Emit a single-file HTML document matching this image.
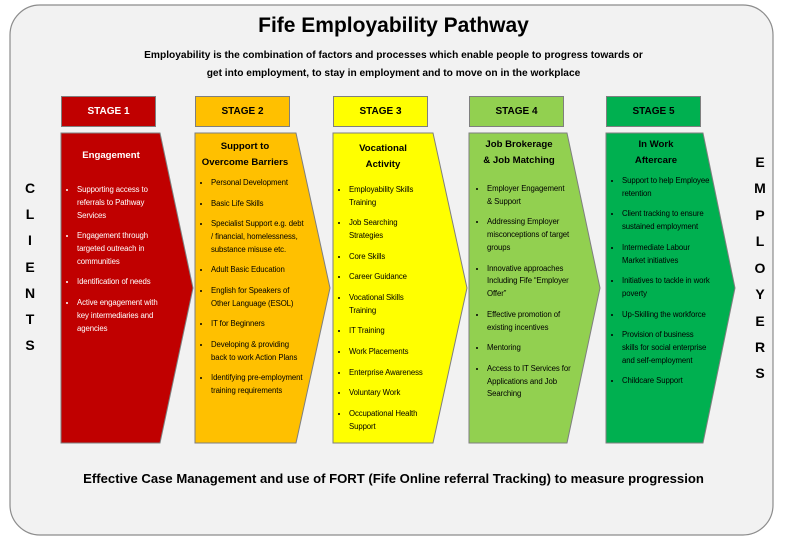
<!DOCTYPE html>
<html><head><meta charset="utf-8"><style>
body{margin:0;width:787px;height:547px;background:#fff;position:relative;font-family:"Liberation Sans",sans-serif;overflow:hidden}
.a{position:absolute}
.hdr{position:absolute;top:96px;height:31px;width:95px;border:1px solid #7f7f7f;box-sizing:border-box;font-weight:bold;font-size:10px;display:flex;align-items:center;justify-content:center}
.t{position:absolute;font-weight:bold;font-size:9.6px;line-height:15.5px;text-align:center}
ul{position:absolute;margin:0;padding:0 0 0 11px;font-size:7.8px;line-height:12.8px;list-style:disc;letter-spacing:-0.1px}
li{margin-bottom:7.8px}
.L{position:absolute;font-weight:bold;font-size:14px;width:20px;text-align:center}
</style></head><body>
<svg class="a" style="left:0;top:0" width="787" height="547">
<rect x="10" y="5" width="763" height="530" rx="30" fill="#f2f2f2" stroke="#8c8c8c" stroke-width="1.2"/>
<polygon points="61,133 160,133 193,288 160,443 61,443" fill="#c00000" stroke="#7f7f7f"/>
<polygon points="195,133 296,133 330,288 296,443 195,443" fill="#ffc000" stroke="#7f7f7f"/>
<polygon points="333,133 433,133 467,288 433,443 333,443" fill="#ffff00" stroke="#7f7f7f"/>
<polygon points="469,133 567,133 600,288 567,443 469,443" fill="#92d050" stroke="#7f7f7f"/>
<polygon points="606,133 703,133 735,288 703,443 606,443" fill="#00b050" stroke="#7f7f7f"/>
</svg>
<div class="a" style="left:0;width:787px;top:14px;text-align:center;font-weight:bold;font-size:21px">Fife Employability Pathway</div>
<div class="a" style="left:0;width:787px;top:47px;text-align:center;font-weight:bold;font-size:10.2px;line-height:18px">Employability is the combination of factors and processes which enable people to progress towards or<br>get into employment, to stay in employment and to move on in the workplace</div>
<div class="hdr" style="left:61px;background:#c00000;color:#fff">STAGE 1</div>
<div class="hdr" style="left:195px;background:#ffc000">STAGE 2</div>
<div class="hdr" style="left:333px;background:#ffff00">STAGE 3</div>
<div class="hdr" style="left:469px;background:#92d050">STAGE 4</div>
<div class="hdr" style="left:606px;background:#00b050">STAGE 5</div>

<div class="t" style="left:61px;width:100px;top:148px;color:#fff">Engagement</div>
<ul style="left:66px;top:184px;width:88px;color:#fff">
<li>Supporting access to referrals to Pathway Services</li>
<li>Engagement through targeted outreach in communities</li>
<li>Identification of needs</li>
<li>Active engagement with key intermediaries and agencies</li></ul>

<div class="t" style="left:195px;width:100px;top:139px">Support to<br>Overcome Barriers</div>
<ul style="left:200px;top:177px;width:96px">
<li>Personal Development</li><li>Basic Life Skills</li>
<li>Specialist Support e.g. debt / financial, homelessness, substance misuse etc.</li>
<li>Adult Basic Education</li><li>English for Speakers of Other Language (ESOL)</li>
<li>IT for Beginners</li><li>Developing &amp; providing back to work Action Plans</li>
<li>Identifying pre-employment training requirements</li></ul>

<div class="t" style="left:333px;width:100px;top:141px">Vocational<br>Activity</div>
<ul style="left:338px;top:184px;width:80px">
<li>Employability Skills Training</li><li>Job Searching Strategies</li><li>Core Skills</li>
<li>Career Guidance</li><li>Vocational Skills Training</li><li>IT Training</li>
<li>Work Placements</li><li>Enterprise Awareness</li><li>Voluntary Work</li>
<li>Occupational Health Support</li></ul>

<div class="t" style="left:469px;width:100px;top:137px">Job Brokerage<br>&amp; Job Matching</div>
<ul style="left:476px;top:183px;width:84px">
<li>Employer Engagement &amp; Support</li><li>Addressing Employer misconceptions of target groups</li>
<li>Innovative approaches Including Fife “Employer Offer”</li>
<li>Effective promotion of existing incentives</li><li>Mentoring</li>
<li>Access to IT Services for Applications and Job Searching</li></ul>

<div class="t" style="left:606px;width:100px;top:137px">In Work<br>Aftercare</div>
<ul style="left:611px;top:175px;width:88px">
<li>Support to help Employee retention</li><li>Client tracking to ensure sustained employment</li>
<li>Intermediate Labour Market initiatives</li><li>Initiatives to tackle in work poverty</li>
<li>Up-Skilling the workforce</li><li>Provision of business skills for social enterprise and self-employment</li>
<li>Childcare Support</li></ul>

<div class="L" style="left:20px;top:180px">C</div><div class="L" style="left:20px;top:206px">L</div>
<div class="L" style="left:20px;top:232px">I</div><div class="L" style="left:20px;top:259px">E</div>
<div class="L" style="left:20px;top:285px">N</div><div class="L" style="left:20px;top:311px">T</div>
<div class="L" style="left:20px;top:337px">S</div>
<div class="L" style="left:750px;top:154px">E</div><div class="L" style="left:750px;top:180px">M</div>
<div class="L" style="left:750px;top:207px">P</div><div class="L" style="left:750px;top:233px">L</div>
<div class="L" style="left:750px;top:260px">O</div><div class="L" style="left:750px;top:286px">Y</div>
<div class="L" style="left:750px;top:313px">E</div><div class="L" style="left:750px;top:339px">R</div>
<div class="L" style="left:750px;top:365px">S</div>
<div class="a" style="left:0;width:787px;top:471px;text-align:center;font-weight:bold;font-size:13.1px">Effective Case Management and use of FORT (Fife Online referral Tracking) to measure progression</div>
</body></html>
